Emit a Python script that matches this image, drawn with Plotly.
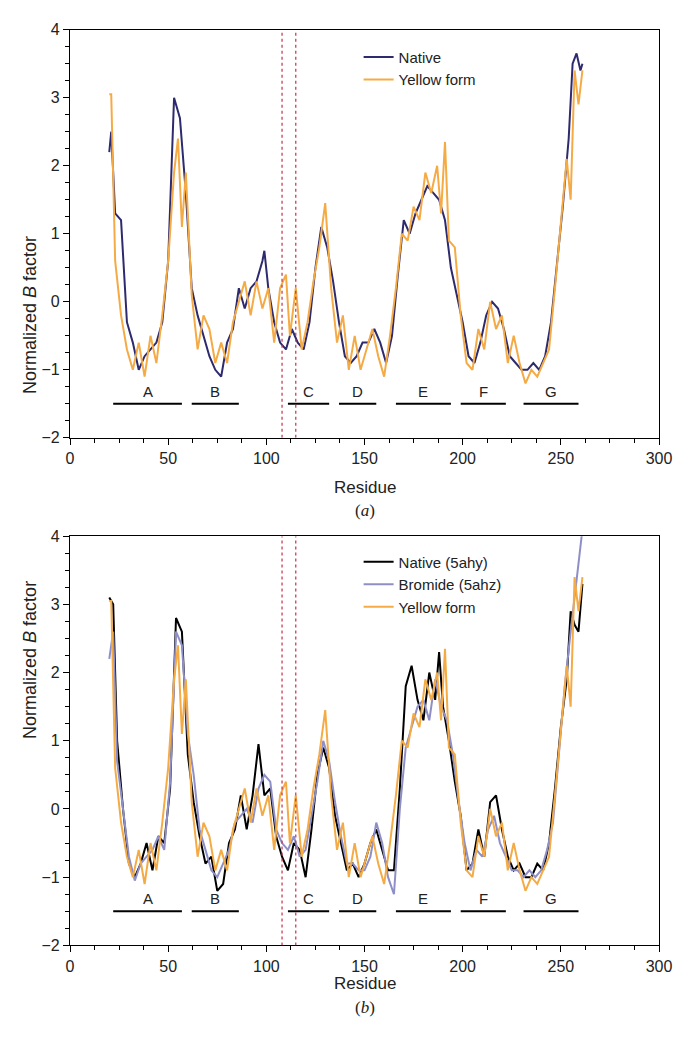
import plotly.graph_objects as go
from plotly.subplots import make_subplots

# panel (a) native
nat_x = [20,21,23,26,29,32,35,38,41,44,47,50,53,56,59,62,65,68,71,74,77,80,83,86,89,92,95,98,99,101,104,107,110,113,116,119,122,125,128,131,134,137,140,143,146,149,152,155,158,161,164,167,170,173,176,179,182,185,188,191,194,197,200,203,206,209,212,215,218,221,224,227,230,233,236,239,242,245,248,251,254,256,258,260,261]
nat_y = [2.2,2.5,1.3,1.2,-0.3,-0.6,-1.0,-0.8,-0.7,-0.6,-0.3,0.6,3.0,2.7,1.6,0.2,-0.2,-0.5,-0.8,-1.0,-1.1,-0.6,-0.4,0.2,-0.1,0.2,0.3,0.6,0.75,0.2,-0.3,-0.6,-0.7,-0.4,-0.6,-0.7,-0.3,0.5,1.1,0.8,0.3,-0.3,-0.8,-0.9,-0.8,-0.6,-0.6,-0.4,-0.6,-0.9,-0.5,0.4,1.2,1.0,1.3,1.5,1.7,1.6,1.5,1.2,0.5,0.1,-0.3,-0.8,-0.9,-0.6,-0.2,0.0,-0.1,-0.4,-0.8,-0.9,-1.0,-1.0,-0.9,-1.0,-0.8,-0.3,0.5,1.4,2.4,3.5,3.65,3.4,3.5]

# yellow form (both panels)
yel_x = [20,21,23,26,29,32,35,38,41,44,47,50,53,55,57,59,62,65,68,71,74,77,80,83,86,89,92,95,98,101,104,107,110,112,115,118,121,124,127,130,133,136,139,142,145,148,151,154,157,160,163,166,169,172,175,178,181,184,187,189,191,193,196,199,202,205,208,211,214,217,220,223,226,229,232,235,238,241,244,247,250,253,255,257,259,261]
yel_y = [3.05,3.05,0.6,-0.2,-0.7,-1.0,-0.6,-1.1,-0.5,-0.9,-0.2,0.6,1.9,2.4,1.1,1.9,0.1,-0.7,-0.2,-0.4,-0.9,-0.6,-0.9,-0.3,0.0,0.3,-0.2,0.3,-0.1,0.2,-0.6,0.2,0.4,-0.5,0.2,-0.7,-0.3,0.3,0.8,1.45,0.2,-0.6,-0.2,-1.0,-0.5,-1.0,-0.7,-0.4,-0.8,-1.1,-0.5,0.2,1.0,0.9,1.4,1.2,1.9,1.6,2.0,1.3,2.35,0.9,0.8,-0.2,-0.9,-1.0,-0.4,-0.7,0.0,-0.4,-0.2,-0.9,-0.5,-0.9,-1.2,-1.0,-1.1,-0.9,-0.7,0.2,1.2,2.1,1.5,3.4,2.9,3.4]

# panel (b) native 5ahy
ahy_x = [20,22,24,27,30,33,36,39,42,45,48,51,54,57,60,63,66,69,72,75,78,81,84,87,90,93,96,99,102,105,108,111,114,117,120,123,126,129,132,135,138,141,144,147,150,153,156,159,162,165,168,171,174,177,180,183,186,188,190,193,196,199,202,205,208,211,214,217,220,223,226,229,232,235,238,241,244,247,250,253,255,257,259,261]
ahy_y = [3.1,3.0,1.0,0.0,-0.8,-1.0,-0.8,-0.5,-0.9,-0.4,-0.5,0.3,2.8,2.6,0.8,0.1,-0.4,-0.8,-0.7,-1.2,-1.1,-0.5,-0.3,0.2,-0.3,0.2,0.95,0.2,0.3,-0.4,-0.7,-0.9,-0.5,-0.6,-1.0,-0.3,0.5,0.9,0.6,-0.1,-0.5,-0.9,-0.8,-1.0,-0.8,-0.5,-0.3,-0.6,-0.9,-0.9,0.3,1.8,2.1,1.6,1.3,2.0,1.6,2.3,1.5,1.0,0.4,-0.1,-0.9,-0.8,-0.3,-0.7,0.1,0.2,-0.3,-0.7,-0.9,-0.8,-1.0,-1.0,-0.8,-0.9,-0.5,0.3,1.2,1.9,2.9,2.7,2.6,3.3]

# bromide 5ahz
brm_x = [20,22,24,27,30,33,36,39,42,45,48,51,54,57,60,63,66,69,72,75,78,81,84,87,90,93,96,99,102,105,108,111,114,117,120,123,126,129,132,135,138,141,144,147,150,153,156,159,162,165,168,171,174,177,180,183,186,189,192,195,198,201,204,207,210,213,216,219,222,225,228,231,234,237,240,243,246,249,252,255,257,259,261]
brm_y = [2.2,2.6,0.7,0.0,-0.7,-1.05,-0.8,-0.7,-0.6,-0.4,-0.6,0.4,2.6,2.4,1.1,0.5,-0.3,-0.6,-0.9,-1.0,-0.8,-0.6,-0.2,-0.1,0.0,-0.2,0.3,0.5,0.4,-0.3,-0.5,-0.6,-0.4,-0.7,-0.6,-0.1,0.4,1.0,0.7,0.1,-0.4,-0.8,-0.8,-0.9,-0.9,-0.7,-0.2,-0.5,-1.0,-1.25,0.0,0.9,1.2,1.5,1.6,1.3,1.9,1.5,1.3,0.8,0.1,-0.5,-0.9,-0.6,-0.7,-0.3,-0.1,-0.5,-0.7,-0.9,-0.9,-1.0,-0.9,-1.0,-0.9,-0.6,-0.2,0.8,1.8,2.6,3.1,3.6,4.1]

seg_names = ["A","B","C","D","E","F","G"]
seg_start = [22,62,111,137,166,199,231]
seg_end = [57,86,132,156,194,222,259]
dotted_x = [108,115]

fig = make_subplots(rows=2, cols=1)

def add(x, y, name, color, row, legend):
    fig.add_trace(go.Scatter(x=x, y=y, mode="lines", name=name, legend=legend,
                             line=dict(color=color, width=2)), row=row, col=1)

add(nat_x, nat_y, "Native", "#2e2a6e", 1, "legend")
add(yel_x, yel_y, "Yellow form", "#f5ab45", 1, "legend")
add(ahy_x, ahy_y, "Native (5ahy)", "#000000", 2, "legend2")
add(brm_x, brm_y, "Bromide (5ahz)", "#8f8fc8", 2, "legend2")
add(yel_x, yel_y, "Yellow form", "#f5ab45", 2, "legend2")

for r in [1, 2]:
    xref = "x" if r == 1 else "x2"
    yref = "y" if r == 1 else "y2"
    for s, e, n in zip(seg_start, seg_end, seg_names):
        fig.add_shape(type="line", x0=s, x1=e, y0=-1.5, y1=-1.5, xref=xref, yref=yref,
                      line=dict(color="black", width=2))
        fig.add_annotation(x=(s + e) / 2, y=-1.32, xref=xref, yref=yref, text=n,
                           showarrow=False, font=dict(size=15, color="#222"))
    for dx in dotted_x:
        fig.add_shape(type="line", x0=dx, x1=dx, y0=-2, y1=4, xref=xref, yref=yref,
                      line=dict(color="#c0304a", width=1.2, dash="dot"))

axis = dict(showline=True, linecolor="black", linewidth=1.2, mirror=True, ticks="outside",
            ticklen=6, tickcolor="black", showgrid=False, zeroline=False,
            tickfont=dict(size=16, color="#222"))
fig.update_yaxes(domain=[0.5794, 0.9788], row=1, col=1)
fig.update_yaxes(domain=[0.0828, 0.4832], row=2, col=1)
for r in [1, 2]:
    fig.update_xaxes(range=[0, 300], dtick=50, minor=dict(ticks="outside", dtick=12.5, ticklen=4),
                     row=r, col=1, **axis)
    fig.update_yaxes(range=[-2, 4], dtick=1, minor=dict(ticks="outside", dtick=0.25, ticklen=4),
                     row=r, col=1, **axis)

fig.update_layout(
    width=677, height=1039, template="plotly_white",
    margin=dict(l=70, r=18, t=0, b=0),
    font=dict(family="Liberation Sans, Arial", color="#222"),
    legend=dict(x=0.49, y=0.968, xanchor="left", yanchor="top", bgcolor="rgba(0,0,0,0)",
                font=dict(size=15)),
    legend2=dict(x=0.49, y=0.474, xanchor="left", yanchor="top", bgcolor="rgba(0,0,0,0)",
                 font=dict(size=15)),
)

for rpos, lab, lpos, ymid in [(0.531, "(<i>a</i>)", 0.508, 0.779),
                              (0.034, "(<i>b</i>)", 0.011, 0.283)]:
    fig.add_annotation(x=0.5, y=rpos, xref="paper", yref="paper", text="Residue",
                       showarrow=False, font=dict(size=17))
    fig.add_annotation(x=0.5, y=lpos, xref="paper", yref="paper", text=lab,
                       showarrow=False, font=dict(size=17, family="Liberation Serif"))
    fig.add_annotation(x=-0.088, y=ymid, xref="paper", yref="paper", text="Normalized <i>B</i> factor",
                       textangle=-90, showarrow=False, font=dict(size=18))

fig.write_html("out.html", config={"displayModeBar": False})

# drop the default body margin so the figure fills the window exactly
with open("out.html") as f:
    html = f.read()
html = html.replace("<body>", '<body style="margin:0;overflow:hidden">', 1)
with open("out.html", "w") as f:
    f.write(html)
